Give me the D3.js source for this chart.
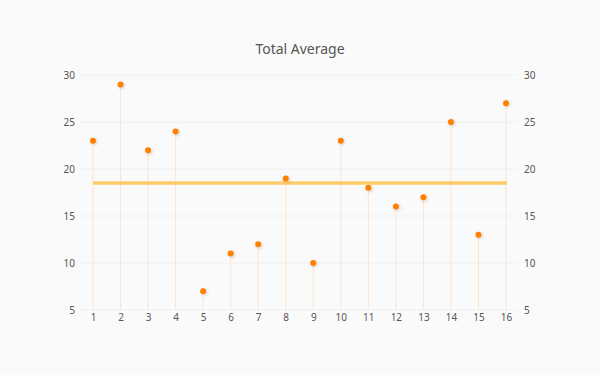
<!DOCTYPE html>
<html><head><meta charset="utf-8">
<script src="https://cdn.jsdelivr.net/npm/d3@7"></script>
<style>html,body{margin:0;padding:0;background:#fafafa;}</style>
</head><body>
<script>
const categories = [1,2,3,4,5,6,7,8,9,10,11,12,13,14,15,16];
const values = [23,29,22,24,7,11,12,19,10,23,18,16,17,25,13,27];
const yTicks = [5,10,15,20,25,30];
const title = "Total Average";
const average = d3.mean(values);

const FONT = "'Noto Sans', 'Open Sans', sans-serif";
const W = 600, H = 375;
const svg = d3.select("body").append("svg").attr("width", W).attr("height", H)
  .style("font-family", FONT);
svg.append("rect").attr("width", W).attr("height", H).attr("fill", "#fafafa");

const defs = svg.append("defs");
const f = defs.append("filter").attr("id","sh").attr("x","-100%").attr("y","-100%").attr("width","300%").attr("height","300%");
f.append("feDropShadow").attr("dx",1).attr("dy",1).attr("stdDeviation",1.5).attr("flood-color","#000").attr("flood-opacity",0.18);

const x = d3.scaleLinear().domain([1,16]).range([93,506]);
const y = d3.scaleLinear().domain([5,30]).range([310,75]);

// gridlines
svg.append("g").selectAll("line").data(yTicks).join("line")
  .attr("x1",80).attr("x2",518).attr("y1",d=>y(d)).attr("y2",d=>y(d))
  .attr("stroke","#f0f0f0").attr("stroke-width",1);

// axes
const yl = svg.append("g").attr("transform","translate(80,0)").call(d3.axisLeft(y).tickValues(yTicks).tickSize(0).tickPadding(5));
const yr = svg.append("g").attr("transform","translate(518,0)").call(d3.axisRight(y).tickValues(yTicks).tickSize(0).tickPadding(6));
const xa = svg.append("g").attr("transform","translate(0,310)").call(d3.axisBottom(x).tickValues(categories).tickFormat(d3.format("d")).tickSize(0).tickPadding(4));
[yl,yr,xa].forEach(g=>{
  g.select(".domain").remove();
  g.selectAll("text").attr("fill","#555").style("font-size","10px").style("font-family",FONT);
});

// drop lines
svg.append("g").selectAll("line").data(values).join("line")
  .attr("x1",(d,i)=>x(categories[i])).attr("x2",(d,i)=>x(categories[i]))
  .attr("y1",d=>y(d)).attr("y2",y(5))
  .attr("stroke","#ffe3cc").attr("stroke-width",1);

// average line
svg.append("line").attr("x1",x(1)).attr("x2",x(16)+1)
  .attr("y1",y(average)).attr("y2",y(average))
  .attr("stroke","#ffc34d").attr("stroke-opacity",0.85).attr("stroke-width",3.5);

// points
svg.append("g").selectAll("circle").data(values).join("circle")
  .attr("cx",(d,i)=>x(categories[i])).attr("cy",d=>y(d)).attr("r",3)
  .attr("fill","#ff7f00").attr("filter","url(#sh)");

svg.append("text").attr("x",300).attr("y",54).attr("text-anchor","middle")
  .attr("fill","#555").style("font-size","14px").text(title);
</script>
</body></html>
